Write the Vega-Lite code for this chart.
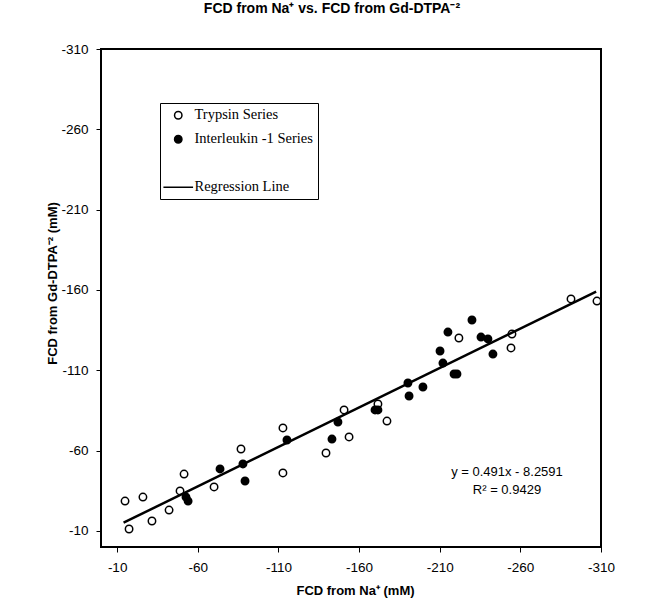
{
  "$schema": "https://vega.github.io/schema/vega-lite/v6.json",
  "width": 500,
  "height": 498,
  "autosize": {"type": "none"},
  "padding": {"left": 101, "top": 49, "right": 61, "bottom": 60},
  "background": "white",
  "title": {
    "text": "FCD from Na⁺ vs. FCD from Gd-DTPA⁻²",
    "font": "Liberation Sans",
    "fontSize": 14,
    "fontWeight": "bold",
    "color": "black",
    "anchor": "middle",
    "baseline": "alphabetic",
    "offset": 15,
    "dx": -19
  },
  "config": {
    "view": {"stroke": "black", "strokeWidth": 2},
    "axis": {
      "domain": false,
      "grid": false,
      "tickColor": "black",
      "tickSize": 5,
      "tickWidth": 1,
      "labelFont": "Liberation Sans",
      "labelFontSize": 13.5,
      "labelColor": "black",
      "labelPadding": 8,
      "labelFlush": false,
      "labelExpr": "replace(datum.label, '−', '-')",
      "titleFont": "Liberation Sans",
      "titleFontSize": 13,
      "titleFontWeight": "bold",
      "titleColor": "black"
    }
  },
  "layer": [
    {
      "data": {
        "values": [
          {"na": -14.9, "gd": -28.6, "series": "Trypsin Series"},
          {"na": -26.0, "gd": -31.1, "series": "Trypsin Series"},
          {"na": -17.4, "gd": -11.2, "series": "Trypsin Series"},
          {"na": -31.6, "gd": -16.2, "series": "Trypsin Series"},
          {"na": -42.2, "gd": -23.0, "series": "Trypsin Series"},
          {"na": -49.0, "gd": -34.9, "series": "Trypsin Series"},
          {"na": -51.5, "gd": -45.4, "series": "Trypsin Series"},
          {"na": -70.1, "gd": -37.4, "series": "Trypsin Series"},
          {"na": -86.8, "gd": -61.0, "series": "Trypsin Series"},
          {"na": -112.8, "gd": -46.1, "series": "Trypsin Series"},
          {"na": -112.8, "gd": -74.1, "series": "Trypsin Series"},
          {"na": -139.5, "gd": -58.5, "series": "Trypsin Series"},
          {"na": -150.7, "gd": -85.3, "series": "Trypsin Series"},
          {"na": -153.8, "gd": -68.5, "series": "Trypsin Series"},
          {"na": -171.7, "gd": -89.0, "series": "Trypsin Series"},
          {"na": -177.3, "gd": -78.4, "series": "Trypsin Series"},
          {"na": -221.9, "gd": -130.1, "series": "Trypsin Series"},
          {"na": -254.8, "gd": -132.6, "series": "Trypsin Series"},
          {"na": -254.2, "gd": -123.9, "series": "Trypsin Series"},
          {"na": -291.4, "gd": -154.4, "series": "Trypsin Series"},
          {"na": -307.5, "gd": -153.1, "series": "Trypsin Series"},
          {"na": -52.7, "gd": -31.1, "series": "Interleukin -1 Series"},
          {"na": -54.0, "gd": -28.6, "series": "Interleukin -1 Series"},
          {"na": -73.8, "gd": -48.6, "series": "Interleukin -1 Series"},
          {"na": -88.0, "gd": -51.7, "series": "Interleukin -1 Series"},
          {"na": -89.3, "gd": -41.1, "series": "Interleukin -1 Series"},
          {"na": -115.3, "gd": -66.6, "series": "Interleukin -1 Series"},
          {"na": -143.2, "gd": -67.2, "series": "Interleukin -1 Series"},
          {"na": -146.9, "gd": -77.8, "series": "Interleukin -1 Series"},
          {"na": -169.9, "gd": -85.3, "series": "Interleukin -1 Series"},
          {"na": -171.7, "gd": -85.3, "series": "Interleukin -1 Series"},
          {"na": -190.3, "gd": -102.1, "series": "Interleukin -1 Series"},
          {"na": -191.0, "gd": -94.0, "series": "Interleukin -1 Series"},
          {"na": -199.6, "gd": -99.6, "series": "Interleukin -1 Series"},
          {"na": -210.2, "gd": -122.0, "series": "Interleukin -1 Series"},
          {"na": -212.0, "gd": -114.5, "series": "Interleukin -1 Series"},
          {"na": -218.9, "gd": -107.7, "series": "Interleukin -1 Series"},
          {"na": -220.7, "gd": -107.7, "series": "Interleukin -1 Series"},
          {"na": -215.1, "gd": -133.8, "series": "Interleukin -1 Series"},
          {"na": -230.0, "gd": -141.3, "series": "Interleukin -1 Series"},
          {"na": -235.6, "gd": -130.7, "series": "Interleukin -1 Series"},
          {"na": -239.9, "gd": -129.5, "series": "Interleukin -1 Series"},
          {"na": -243.0, "gd": -120.1, "series": "Interleukin -1 Series"}
        ]
      },
      "mark": {"type": "point", "opacity": 1, "strokeWidth": 1.5, "size": 55},
      "encoding": {
        "x": {
          "field": "na", "type": "quantitative",
          "scale": {"domain": [0, -310], "nice": false, "zero": false},
          "axis": {
            "values": [-10, -60, -110, -160, -210, -260, -310],
            "title": "FCD from Na⁺ (mM)",
            "titleX": 254, "titleY": 47, "titleBaseline": "alphabetic"
          }
        },
        "y": {
          "field": "gd", "type": "quantitative",
          "scale": {"domain": [0, -310], "nice": false, "zero": false},
          "axis": {
            "values": [-10, -60, -110, -160, -210, -260, -310],
            "title": "FCD from Gd-DTPA⁻² (mM)",
            "titleX": -49, "titleY": 234, "titleBaseline": "middle", "titleAngle": -90
          }
        },
        "shape": {
          "field": "series", "type": "nominal",
          "scale": {
            "domain": ["Trypsin Series", "Interleukin -1 Series", " ", "Regression Line"],
            "range": ["circle", "circle", "circle", "M-4,0H4"]
          },
          "legend": {
            "orient": "none", "legendX": 59, "legendY": 54, "title": null,
            "strokeColor": "black", "padding": 5, "rowPadding": 9,
            "symbolOffset": 6, "labelOffset": 9, "symbolSize": 55, "symbolStrokeWidth": 1.5,
            "labelFont": "Liberation Serif", "labelFontSize": 14.5, "labelColor": "black"
          }
        },
        "fill": {
          "field": "series", "type": "nominal",
          "scale": {
            "domain": ["Trypsin Series", "Interleukin -1 Series", " ", "Regression Line"],
            "range": ["white", "black", "transparent", "transparent"]
          },
          "legend": {
            "orient": "none", "legendX": 59, "legendY": 54, "title": null,
            "strokeColor": "black", "padding": 5, "rowPadding": 9,
            "symbolOffset": 6, "labelOffset": 9, "symbolSize": 55, "symbolStrokeWidth": 1.5,
            "labelFont": "Liberation Serif", "labelFontSize": 14.5, "labelColor": "black"
          }
        },
        "stroke": {
          "field": "series", "type": "nominal",
          "scale": {
            "domain": ["Trypsin Series", "Interleukin -1 Series", " ", "Regression Line"],
            "range": ["black", "black", "transparent", "black"]
          },
          "legend": {
            "orient": "none", "legendX": 59, "legendY": 54, "title": null,
            "strokeColor": "black", "padding": 5, "rowPadding": 9,
            "symbolOffset": 6, "labelOffset": 9, "symbolSize": 55, "symbolStrokeWidth": 1.5,
            "labelFont": "Liberation Serif", "labelFontSize": 14.5, "labelColor": "black"
          }
        }
      }
    },
    {
      "data": {
        "values": [
          {"na": -14, "gd": -15.13},
          {"na": -307, "gd": -158.99}
        ]
      },
      "mark": {"type": "line", "color": "black", "strokeWidth": 2.5},
      "encoding": {
        "x": {"field": "na", "type": "quantitative"},
        "y": {"field": "gd", "type": "quantitative"}
      }
    },
    {
      "data": {
        "values": [
          {"na": -251.7, "gd": -44.2, "label": "y = 0.491x - 8.2591"},
          {"na": -251.7, "gd": -33.0, "label": "R² = 0.9429"}
        ]
      },
      "mark": {"type": "text", "font": "Liberation Sans", "fontSize": 13, "color": "black", "align": "center", "baseline": "alphabetic"},
      "encoding": {
        "x": {"field": "na", "type": "quantitative"},
        "y": {"field": "gd", "type": "quantitative"},
        "text": {"field": "label", "type": "nominal"}
      }
    }
  ]
}
